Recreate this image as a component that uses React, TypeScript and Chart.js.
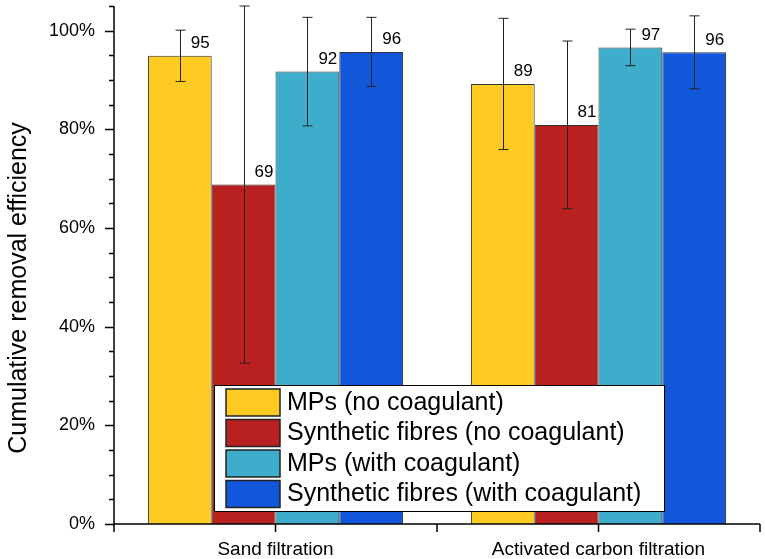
import React, { useEffect, useRef } from 'react';
import { Chart, registerables } from 'chart.js';

Chart.register(...registerables);

const categories = ['Sand filtration', 'Activated carbon filtration'];
const seriesNames = [
  'MPs (no coagulant)',
  'Synthetic fibres (no coagulant)',
  'MPs (with coagulant)',
  'Synthetic fibres (with coagulant)',
];
const seriesColors = ['#FDCB22', '#B92020', '#3DADCB', '#1256DA'];

// cumulative removal efficiency (%)
const mpsNoCoag = [94.9, 89.2];
const fibresNoCoag = [68.8, 80.9];
const mpsCoag = [91.7, 96.6];
const fibresCoag = [95.7, 95.6];

// error bar half widths (%)
const mpsNoCoagErr = [5.2, 13.3];
const fibresNoCoagErr = [36.2, 17.0];
const mpsCoagErr = [11.0, 3.7];
const fibresCoagErr = [7.0, 7.4];

const yTicks = [0, 20, 40, 60, 80, 100];

const seriesValues = [mpsNoCoag, fibresNoCoag, mpsCoag, fibresCoag];
const seriesErrors = [mpsNoCoagErr, fibresNoCoagErr, mpsCoagErr, fibresCoagErr];

const FONT = '"Liberation Sans", Arial, sans-serif';

const decorPlugin = {
  id: 'decor',
  afterDatasetsDraw(chart: any) {
    const { ctx, chartArea: area } = chart;
    const y = chart.scales.y;
    const x = chart.scales.x;
    ctx.save();

    // error bars
    ctx.strokeStyle = '#222';
    ctx.lineWidth = 1;
    chart.data.datasets.forEach((ds: any, i: number) => {
      const meta = chart.getDatasetMeta(i);
      meta.data.forEach((bar: any, j: number) => {
        const v = ds.data[j];
        const e = seriesErrors[i][j];
        const top = y.getPixelForValue(v + e);
        const bot = y.getPixelForValue(v - e);
        const cx = Math.round(bar.x) + 0.5;
        ctx.beginPath();
        ctx.moveTo(cx, top);
        ctx.lineTo(cx, bot);
        ctx.moveTo(cx - 5, top);
        ctx.lineTo(cx + 5, top);
        ctx.moveTo(cx - 5, bot);
        ctx.lineTo(cx + 5, bot);
        ctx.stroke();
      });
    });

    // value labels
    ctx.fillStyle = '#000';
    ctx.font = `17px ${FONT}`;
    ctx.textAlign = 'left';
    ctx.textBaseline = 'bottom';
    chart.data.datasets.forEach((ds: any, i: number) => {
      const meta = chart.getDatasetMeta(i);
      meta.data.forEach((bar: any, j: number) => {
        ctx.fillText(String(Math.round(ds.data[j])), bar.x + 11, bar.y - 4);
      });
    });

    // axes
    ctx.strokeStyle = '#000';
    ctx.lineWidth = 1.5;
    ctx.beginPath();
    ctx.moveTo(area.left, area.top);
    ctx.lineTo(area.left, area.bottom);
    ctx.lineTo(area.right, area.bottom);
    ctx.stroke();

    // y ticks: major every 20, minor every 5
    ctx.beginPath();
    for (let v = 0; v <= y.max; v += 5) {
      const py = Math.round(y.getPixelForValue(v)) + 0.5;
      const len = v % 20 === 0 ? 9 : 5;
      ctx.moveTo(area.left - len, py);
      ctx.lineTo(area.left, py);
    }
    // x ticks at category centres and boundaries
    const half = (area.right - area.left) / categories.length / 2;
    categories.forEach((_, j) => {
      const cx = x.getPixelForValue(j);
      [cx - half, cx, cx + half].forEach((px) => {
        ctx.moveTo(px, area.bottom);
        ctx.lineTo(px, area.bottom + 8);
      });
    });
    ctx.stroke();

    ctx.restore();
  },
  afterDraw(chart: any) {
    const { ctx } = chart;
    ctx.save();

    // legend box
    const lx = 214;
    const ly = 385;
    const lw = 450;
    const lh = 126;
    ctx.fillStyle = '#fff';
    ctx.fillRect(lx, ly, lw, lh);
    ctx.strokeStyle = '#000';
    ctx.lineWidth = 1;
    ctx.strokeRect(lx + 0.5, ly + 0.5, lw, lh);

    ctx.font = `25px ${FONT}`;
    ctx.textAlign = 'left';
    ctx.textBaseline = 'middle';
    seriesNames.forEach((name, i) => {
      const ry = ly + 4 + i * 30.5;
      ctx.fillStyle = seriesColors[i];
      ctx.fillRect(lx + 12, ry, 54, 27);
      ctx.strokeStyle = '#222';
      ctx.lineWidth = 1.5;
      ctx.strokeRect(lx + 12, ry, 54, 27);
      ctx.fillStyle = '#000';
      ctx.fillText(name, lx + 73, ry + 14);
    });

    // y axis title
    ctx.translate(19, 288);
    ctx.rotate(-Math.PI / 2);
    ctx.font = `25px ${FONT}`;
    ctx.textAlign = 'center';
    ctx.textBaseline = 'middle';
    ctx.fillStyle = '#000';
    ctx.fillText('Cumulative removal efficiency', 0, 0);

    ctx.restore();
  },
};

const App: React.FC = () => {
  const chartRef = useRef<HTMLCanvasElement | null>(null);
  const chartInstanceRef = useRef<Chart | null>(null);

  useEffect(() => {
    document.body.style.margin = '0';
    const ctx = chartRef.current;
    if (!ctx) return;

    if (chartInstanceRef.current) {
      chartInstanceRef.current.destroy();
    }

    chartInstanceRef.current = new Chart(ctx, {
      type: 'bar',
      data: {
        labels: categories,
        datasets: seriesNames.map((name, i) => ({
          label: name,
          data: seriesValues[i],
          backgroundColor: seriesColors[i],
          borderColor: '#333',
          borderWidth: 1,
          barPercentage: 1,
          categoryPercentage: 0.79,
        })),
      },
      options: {
        responsive: false,
        animation: false,
        layout: { padding: { top: 6, right: 5, left: 0, bottom: 0 } },
        plugins: {
          legend: { display: false },
          tooltip: { enabled: false },
        },
        scales: {
          x: {
            grid: { display: false, drawTicks: false },
            border: { display: false },
            ticks: {
              color: '#000',
              font: { family: FONT, size: 19 },
              padding: 14,
            },
            afterFit: (scale: any) => {
              scale.height = 35;
              scale.paddingLeft = 0;
              scale.paddingRight = 0;
            },
          },
          y: {
            min: 0,
            max: 105,
            grid: { display: false, drawTicks: false },
            border: { display: false },
            afterBuildTicks: (scale: any) => {
              scale.ticks = yTicks.map((v) => ({ value: v }));
            },
            ticks: {
              color: '#000',
              font: { family: FONT, size: 18 },
              padding: 19,
              callback: (value: any) => `${value}%`,
            },
            afterFit: (scale: any) => {
              scale.width = 114;
              scale.paddingTop = 0;
              scale.paddingBottom = 0;
            },
          },
        },
      },
      plugins: [decorPlugin],
    });

    return () => {
      if (chartInstanceRef.current) {
        chartInstanceRef.current.destroy();
        chartInstanceRef.current = null;
      }
    };
  }, []);

  return (
    <div style={{ width: '765px', height: '559px', background: '#fff' }}>
      <canvas ref={chartRef} width={765} height={559}></canvas>
    </div>
  );
};

export default App;
